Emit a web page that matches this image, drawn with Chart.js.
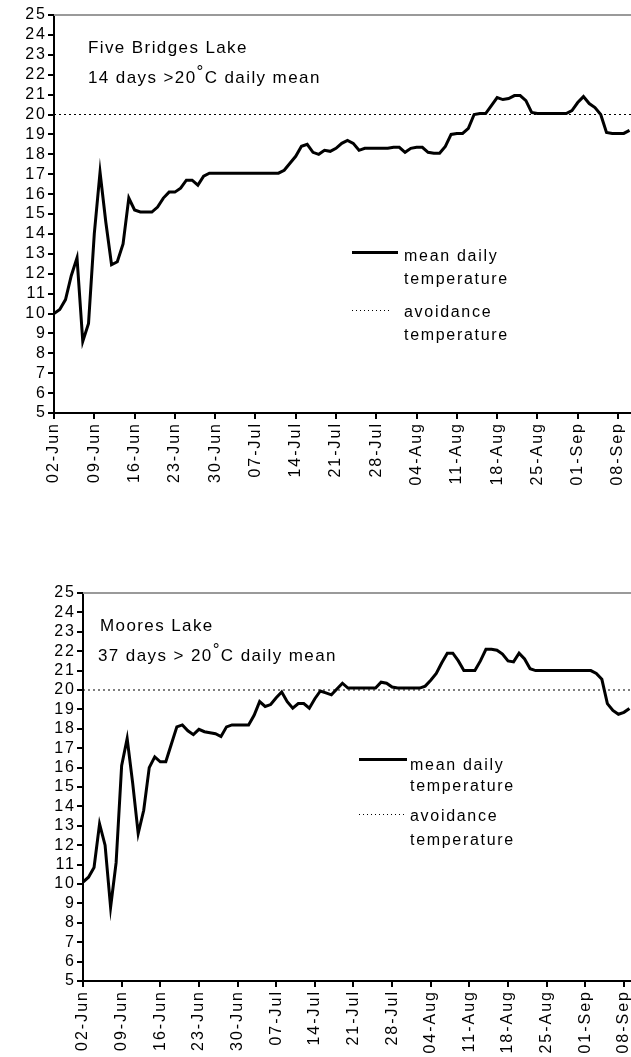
<!DOCTYPE html>
<html>
<head>
<meta charset="utf-8">
<script src="https://cdn.jsdelivr.net/npm/chart.js@4"></script>
<style>
  html, body { margin: 0; padding: 0; background: #fff; overflow: hidden; }
  #page { position: relative; width: 631px; height: 1057px; overflow: hidden; }
  canvas { position: absolute; left: 0; }
  .t { position: absolute; font-family: 'Liberation Sans', Arial, sans-serif; color: #000; white-space: nowrap; }
  .ann { font-size: 17px; line-height: 17px; letter-spacing: 1.4px; }
  .leg { font-size: 16px; line-height: 16px; letter-spacing: 1.7px; }
  .deg { position: relative; top: -6px; font-size: 17px; }
  .solid { position: absolute; height: 3px; background: #000; }
  .dots { position: absolute; height: 1px; background: repeating-linear-gradient(90deg, #000 0 1px, transparent 1px 4px); }
</style>
</head>
<body>
<div id="page">
  <canvas id="chartFive" width="631" height="500" style="top:0"></canvas>
  <canvas id="chartMoores" width="631" height="497" style="top:560px"></canvas>

  <div class="t ann" style="left:88px; top:39px">Five Bridges Lake</div>
  <div class="t ann" style="left:88px; top:69px">14 days &gt;20<span class="deg">°</span>C daily mean</div>
  <div class="solid" style="left:352px; top:251px; width:46px"></div>
  <div class="t leg" style="left:404px; top:248px">mean daily</div>
  <div class="t leg" style="left:404px; top:271px">temperature</div>
  <div class="dots" style="left:352px; top:310px; width:40px"></div>
  <div class="t leg" style="left:404px; top:304px">avoidance</div>
  <div class="t leg" style="left:404px; top:327px">temperature</div>

  <div class="t ann" style="left:100px; top:617px">Moores Lake</div>
  <div class="t ann" style="left:98px; top:647px">37 days &gt; 20<span class="deg">°</span>C daily mean</div>
  <div class="solid" style="left:359px; top:758px; width:48px"></div>
  <div class="t leg" style="left:410px; top:757px">mean daily</div>
  <div class="t leg" style="left:410px; top:778px">temperature</div>
  <div class="dots" style="left:359px; top:814px; width:48px"></div>
  <div class="t leg" style="left:410px; top:808px">avoidance</div>
  <div class="t leg" style="left:410px; top:832px">temperature</div>
</div>

<script>
// days counted from 02-Jun, one value per day
const tickDays = [0, 7, 14, 21, 28, 35, 42, 49, 56, 63, 70, 77, 84, 91, 98];
const tickLabels = ['02-Jun', '09-Jun', '16-Jun', '23-Jun', '30-Jun', '07-Jul', '14-Jul', '21-Jul',
  '28-Jul', '04-Aug', '11-Aug', '18-Aug', '25-Aug', '01-Sep', '08-Sep'];

const avoidanceTemp = 20;

const fiveBridgesTemp = [
  10.0, 10.2, 10.7, 11.9, 12.8, 8.6, 9.5, 14.0, 17.1, 14.6,
  12.45, 12.6, 13.5, 15.8, 15.2, 15.1, 15.1, 15.1, 15.35, 15.8,
  16.1, 16.1, 16.3, 16.7, 16.7, 16.45, 16.9, 17.05, 17.05, 17.05,
  17.05, 17.05, 17.05, 17.05, 17.05, 17.05, 17.05, 17.05, 17.05, 17.05,
  17.2, 17.55, 17.9, 18.4, 18.5, 18.1, 18.0, 18.2, 18.15, 18.3,
  18.55, 18.7, 18.55, 18.2, 18.3, 18.3, 18.3, 18.3, 18.3, 18.35,
  18.35, 18.1, 18.3, 18.35, 18.35, 18.1, 18.05, 18.05, 18.4, 19.0,
  19.05, 19.05, 19.3, 20.0, 20.05, 20.05, 20.45, 20.85, 20.75, 20.8,
  20.95, 20.95, 20.7, 20.1, 20.05, 20.05, 20.05, 20.05, 20.05, 20.05,
  20.2, 20.6, 20.9, 20.55, 20.35, 20.0, 19.1, 19.05, 19.05, 19.05,
  19.2
];

const mooresTemp = [
  10.1, 10.35, 10.85, 13.1, 12.0, 8.8, 11.1, 16.1, 17.5, 15.2,
  12.6, 13.8, 16.0, 16.55, 16.3, 16.3, 17.2, 18.1, 18.2, 17.9,
  17.7, 17.97, 17.85, 17.8, 17.75, 17.6, 18.1, 18.2, 18.2, 18.2,
  18.2, 18.7, 19.4, 19.15, 19.25, 19.6, 19.9, 19.4, 19.06, 19.3,
  19.3, 19.06, 19.55, 19.95, 19.85, 19.75, 20.05, 20.35, 20.1, 20.1,
  20.1, 20.1, 20.1, 20.1, 20.4, 20.35, 20.15, 20.1, 20.1, 20.1,
  20.1, 20.1, 20.2, 20.5, 20.85, 21.4, 21.9, 21.9, 21.5, 21.0,
  21.0, 21.0, 21.5, 22.1, 22.1, 22.05, 21.85, 21.5, 21.45, 21.9,
  21.6, 21.1, 21.0, 21.0, 21.0, 21.0, 21.0, 21.0, 21.0, 21.0,
  21.0, 21.0, 21.0, 20.85, 20.55, 19.3, 18.95, 18.75, 18.85, 19.05
];

const fontFamily = "'Liberation Sans', Arial, sans-serif";

// the old chart font is spaced out, so widen canvas text a bit
const spacingPlugin = {
  id: 'spacing',
  beforeLayout(chart) { chart.ctx.letterSpacing = '2px'; },
  beforeDraw(chart) { chart.ctx.letterSpacing = '2px'; }
};

// grey frame line along the top of the plot
const topFrame = {
  id: 'topFrame',
  beforeDatasetsDraw(chart) {
    const a = chart.chartArea;
    const ctx = chart.ctx;
    ctx.save();
    ctx.strokeStyle = '#9a9a9a';
    ctx.lineWidth = 2;
    ctx.beginPath();
    ctx.moveTo(a.left, a.top);
    ctx.lineTo(a.right, a.top);
    ctx.stroke();
    ctx.restore();
  }
};

function desenharGrafico(id, temps, opts) {
  const pontos = temps.map((t, i) => ({ x: i, y: t }));
  return new Chart(document.getElementById(id), {
    type: 'line',
    data: {
      datasets: [{
        label: 'mean daily temperature',
        data: pontos,
        borderColor: '#000',
        borderWidth: 3,
        pointRadius: 0,
        tension: 0,
        fill: false
      }, {
        label: 'avoidance temperature',
        data: [{ x: 0, y: avoidanceTemp }, { x: opts.xMax, y: avoidanceTemp }],
        borderColor: '#000',
        borderWidth: 1,
        borderDash: [2, 3],
        pointRadius: 0,
        fill: false
      }]
    },
    options: {
      responsive: false,
      animation: false,
      layout: { padding: { top: opts.top, left: 0, right: 0, bottom: 0 } },
      plugins: { legend: { display: false }, tooltip: { enabled: false } },
      scales: {
        x: {
          type: 'linear',
          min: 0,
          max: opts.xMax,
          afterBuildTicks(s) { s.ticks = tickDays.map(v => ({ value: v })); },
          ticks: {
            autoSkip: false,
            minRotation: 90,
            maxRotation: 90,
            padding: 3,
            color: '#000',
            font: { family: fontFamily, size: 16 },
            callback: (v, i) => tickLabels[i]
          },
          grid: { drawOnChartArea: false, tickLength: 6, color: '#000', lineWidth: 2 },
          border: { color: '#000', width: 2 },
          afterFit(s) { s.height = opts.xHeight; s.paddingLeft = 0; s.paddingRight = 0; }
        },
        y: {
          min: 5,
          max: 25,
          ticks: {
            stepSize: 1,
            autoSkip: false,
            padding: 1,
            color: '#000',
            font: { family: fontFamily, size: 16 }
          },
          grid: { drawOnChartArea: false, tickLength: 6, color: '#000', lineWidth: 2 },
          border: { color: '#000', width: 2 },
          afterFit(s) { s.width = opts.yWidth; s.paddingTop = 0; s.paddingBottom = 0; }
        }
      }
    },
    plugins: [spacingPlugin, topFrame]
  });
}

desenharGrafico('chartFive', fiveBridgesTemp, { top: 15, xHeight: 87, yWidth: 54, xMax: 100.26 });
desenharGrafico('chartMoores', mooresTemp, { top: 33, xHeight: 76, yWidth: 83, xMax: 99.28 });
</script>
</body>
</html>
